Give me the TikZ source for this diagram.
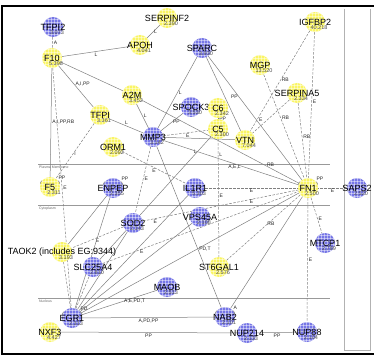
\documentclass[tikz,border=0pt]{standalone}
\usepackage{fontspec}
\setmainfont{Liberation Sans}
\usetikzlibrary{patterns}
\definecolor{gy}{RGB}{250,245,100}
\definecolor{gb}{RGB}{118,118,230}
\pgfdeclarelayer{bg}
\pgfsetlayers{bg,main}
\newcommand\mkgene[6]{%
  \node[gene, fill=#2] (#1) at (#3,#4) {};
  \node[gname] (#1-t) at (#3,#4) {#5};
  \node[gval] (#1-v) at (#3+4,#4+6) {#6};
}
\newcommand\mkloop[2]{%
  \draw[lnk] (#1.140) .. controls +(140:13) and +(40:13) .. (#1.40)
     node[elab, above right, inner sep=0.5pt] {#2};
}
\begin{document}
\begin{tikzpicture}[x=1pt,y=-1pt,
  gene/.style={circle, minimum size=20pt, inner sep=0pt, draw=none,
     postaction={pattern=grid, pattern color=white, opacity=0.45}},
  gname/.style={font=\fontsize{9}{9}\selectfont, text=black, inner sep=0pt},
  gval/.style={font=\fontsize{5.5}{5.5}\selectfont, text=black!70, inner sep=0pt},
  lnk/.style={draw=black!50, line width=0.5pt},
  ilnk/.style={lnk, dash pattern=on 2.5pt off 1.5pt},
  elab/.style={font=\fontsize{5}{5}\selectfont, inner sep=1pt, text=black!85},
  comp/.style={draw=black!40, line width=0.7pt},
  clab/.style={font=\fontsize{3.5}{3.5}\selectfont, text=black!60, inner sep=0pt, anchor=north west}]
\useasboundingbox (0,0) rectangle (374,358);

% genes
\mkgene{TFPI2}{gb}{53}{27}{TFPI2}{3.073}
\mkgene{F10}{gy}{52}{58}{F10}{5.398}
\mkgene{APOH}{gy}{140}{45}{APOH}{4.041}
\mkgene{SERPINF2}{gy}{167}{18}{SERPINF2}{2.390}
\mkgene{IGFBP2}{gy}{315}{22}{IGFBP2}{40.218}
\mkgene{SPARC}{gb}{202}{48}{SPARC}{3.930}
\mkgene{MGP}{gy}{260}{65}{MGP}{13.520}
\mkgene{SERPINA5}{gy}{297}{93}{SERPINA5}{2.334}
\mkgene{A2M}{gy}{132}{95}{A2M}{3.452}
\mkgene{TFPI}{gy}{100}{115}{TFPI}{3.361}
\mkgene{SPOCK3}{gb}{191}{107}{SPOCK3}{3.530}
\mkgene{C6}{gy}{218}{108}{C6}{2.342}
\mkgene{C5}{gy}{218}{129}{C5}{2.300}
\mkgene{VTN}{gy}{245}{140}{VTN}{7.044}
\mkgene{MMP3}{gb}{153}{137}{MMP3}{3.142}
\mkgene{ORM1}{gy}{113}{147}{ORM1}{2.092}
\mkgene{F5}{gy}{50}{187}{F5}{2.311}
\mkgene{ENPEP}{gb}{113}{188}{ENPEP}{2.355}
\mkgene{IL1R1}{gb}{195}{188}{IL1R1}{5.303}
\mkgene{FN1}{gy}{308}{188}{FN1}{2.500}
\mkgene{SAPS2}{gb}{357}{188}{SAPS2}{2.520}
\mkgene{VPS45A}{gb}{200}{217}{VPS45A}{2.108}
\mkgene{SOD2}{gb}{133}{223}{SOD2}{2.143}
\mkgene{TAOK2}{gy}{62}{252}{TAOK2 (includes EG:9344)}{3.193}
\mkgene{SLC}{gb}{93}{267}{SLC25A4}{2.810}
\mkgene{MTCP1}{gb}{325}{243}{MTCP1}{2.789}
\mkgene{ST6}{gy}{219}{267}{ST6GAL1}{2.576}
\mkgene{MAOB}{gb}{167}{287}{MAOB}{2.513}
\mkgene{EGR1}{gb}{72}{318}{EGR1}{2.313}
\mkgene{NAB2}{gb}{225}{317}{NAB2}{2.101}
\mkgene{NXF3}{gy}{50}{332}{NXF3}{4.427}
\mkgene{NUP214}{gb}{247}{333}{NUP214}{2.133}
\mkgene{NUP88}{gb}{307}{332}{NUP88}{2.104}

\begin{pgfonlayer}{bg}
\fill[white] (0,0) rectangle (374,358);
% frame
\draw[line width=1.6pt] (374,6) -- (2,6) -- (2,354) -- (374,354);
\draw[black!30, line width=0.6pt] (344,9) -- (344,350) -- (370,350) -- (370,9);
% compartments
\coordinate (pmL) at (38,164); \coordinate (pmR) at (330,164);
\coordinate (cyL) at (38,205); \coordinate (cyR) at (330,205);
\coordinate (nuL) at (38,298); \coordinate (nuR) at (330,298);
\draw[comp] (pmL) -- (pmR);
\draw[comp] (cyL) -- (cyR);
\draw[comp] (nuL) -- (nuR);
\node[clab] (pmT) at (39,166) {Plasma Membrane};
\node[clab] (cyT) at (39,207) {Cytoplasm};
\node[clab] (nuT) at (39,300) {Nucleus};

% edges
\draw[ilnk] (TFPI2) -- node[elab,right,pos=.5]{A} (F10);
\draw[lnk] (F10) -- node[elab,below,pos=.5]{L} (APOH);
\draw[lnk] (APOH) -- node[elab,right,pos=.45]{L} (SERPINF2);
\draw[lnk] (F10) -- node[elab,right,pos=.45]{A,I,PP} (TFPI);
\draw[lnk] (F10) -- node[elab,anchor=west,pos=.5]{A,I,PP,RB} (F5);
\draw[ilnk] (F10) -- node[elab,right,pos=.5]{E} (EGR1);
\draw[lnk] (F10) -- (A2M);
\draw[ilnk] (TFPI) -- node[elab,right,pos=.55]{I} (F5);
\draw[lnk] (TFPI) -- node[elab,above,pos=.5]{L} (MMP3);
\draw[lnk] (A2M) -- node[elab,right,pos=.5]{L} (MMP3);
\draw[lnk] (SPARC) -- node[elab,right,pos=.5]{L} (MMP3);
\draw[lnk] (SPOCK3) -- node[elab,below,pos=.3]{PP} (MMP3);
\draw[lnk] (SPARC) -- node[elab,left,pos=.33]{PP} (FN1);
\draw[lnk] (SPARC) -- (VTN);
\draw[ilnk] (MMP3) -- node[elab,below,pos=.55]{E} (C5);
\draw[lnk] (MMP3) -- (VTN);
\draw[ilnk] (C6) -- node[elab,right]{PP} (C5);
\draw[ilnk] (C5) -- node[elab,right,pos=.13]{L} node[elab,right,pos=.48]{E} (ST6);
\draw[lnk] (C5) -- node[elab,left,pos=.12]{L} (SLC);
\draw[ilnk] (IGFBP2) -- node[elab,right,pos=.49]{RB} (VTN);
\draw[ilnk] (SERPINA5) -- node[elab,above left,pos=.7]{E} (VTN);
\draw[ilnk] (IGFBP2) -- node[elab,right,pos=.48]{E} (FN1);
\draw[ilnk] (MGP) -- node[elab,right,pos=.42]{RB} (FN1);
\draw[ilnk] (SERPINA5) -- node[elab,right,pos=.45]{RB} (FN1);
\draw[lnk] (A2M) -- node[elab,above,pos=.82]{RB} (FN1);
\draw[lnk] (MMP3) -- node[elab,below,pos=.53]{A,E,L} (FN1);
\draw[ilnk] (IL1R1) -- node[elab,below,pos=.5]{E} (FN1);
\draw[ilnk] (SOD2) -- node[elab,below right,pos=.06]{E} node[elab,below,pos=.7]{E} (FN1);
\draw[ilnk] (SAPS2) -- node[elab,below]{E} (FN1);
\draw[ilnk] (FN1) -- node[elab,right,pos=.58]{E} (MTCP1);
\draw[ilnk] (FN1) -- node[elab,right,pos=.5]{E} (NUP88);
\draw[ilnk] (ST6) -- node[elab,below,pos=.6]{RB} (FN1);
\draw[lnk] (NAB2) -- (FN1);
\draw[lnk] (EGR1) -- (FN1);
\draw[ilnk] (SLC) -- node[elab,below,pos=.2]{E} (FN1);
\draw[lnk] (EGR1) -- node[elab,below,pos=.7]{A,E,PD,T} (MAOB);
\draw[lnk] (EGR1) -- node[elab,below]{A,PD,PP} (NAB2);
\draw[lnk] (NXF3) -- node[elab,below]{PP} (NUP214);
\draw[lnk] (NUP214) -- node[elab,below]{PP} (NUP88);
\draw[lnk] (MMP3) -- node[elab,right,pos=.64]{PD,T} (NAB2);
\draw[ilnk] (MMP3) -- node[elab,right,pos=.48]{E} (SOD2);
\draw[ilnk] (ORM1) -- node[elab,below,pos=.5]{E} (IL1R1);
\draw[ilnk] (SOD2) -- node[elab,below,pos=.5]{E} (TAOK2);
\draw[lnk] (EGR1) -- (ENPEP);
\draw[lnk] (ENPEP) -- (TAOK2);
\draw[lnk] (EGR1) -- (SOD2);
\draw[lnk] (EGR1) -- (IL1R1);
\draw[lnk] (EGR1) -- (VPS45A);
\draw[ilnk] (EGR1) -- (SLC);
\draw[ilnk] (EGR1) -- (TAOK2);
% self loops
\mkloop{F5}{PP}
\mkloop{ENPEP}{PP}
\mkloop{FN1}{PP}
\mkloop{EGR1}{PD}
\mkloop{NAB2}{A}
\end{pgfonlayer}
\end{tikzpicture}
\end{document}
